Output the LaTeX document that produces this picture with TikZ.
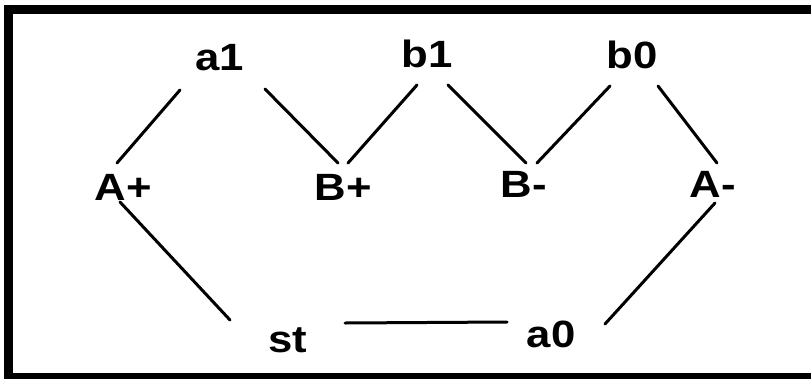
\documentclass[tikz,border=0pt]{standalone}
\usepackage{fontspec}
\setmainfont{Liberation Sans}
\usetikzlibrary{calc}
\newcommand\sxtext[1]{\scalebox{1.15}[1]{#1}}
\tikzset{
  lbl/.style={anchor=base, inner sep=0pt, font=\fontsize{38}{38}\selectfont\bfseries},
  link/.style={line width=3pt, line cap=round}
}
\begin{document}
\begin{tikzpicture}[x=1pt,y=-1pt]
\useasboundingbox (0,0) rectangle (811,378);
\clip (0,0) rectangle (811,378);
\draw[line width=9pt] (8,9.5) rectangle (830,377);
% nodes
\node[lbl] (a1) at (220,70) {\sxtext{a1}};
\node[lbl] (b1) at (427,67) {\sxtext{b1}};
\node[lbl] (b0) at (632,68) {\sxtext{b0}};
\node[lbl] (Ap) at (123,200) {\sxtext{A+}};
\node[lbl] (Bp) at (343,200) {\sxtext{B+}};
\node[lbl] (Bm) at (524,197) {\sxtext{B-}};
\node[lbl] (Am) at (713,197) {\sxtext{A-}};
\node[lbl] (st) at (288,352) {\sxtext{st}};
\node[lbl] (a0) at (551,347) {\sxtext{a0}};
% connectors
\draw[link] ($(Ap.base)+(-6,-37)$) -- ($(a1.base)+(-40,20)$);
\draw[link] ($(a1.base)+(45,19)$) -- ($(Bp.base)+(-5,-37)$);
\draw[link] ($(Bp.base)+(5,-37)$) -- ($(b1.base)+(-10,18)$);
\draw[link] ($(b1.base)+(21,18)$) -- ($(Bm.base)+(2,-34)$);
\draw[link] ($(Bm.base)+(13,-34)$) -- ($(b0.base)+(-22,18)$);
\draw[link] ($(b0.base)+(26,18)$) -- ($(Am.base)+(4,-34)$);
\draw[link] ($(Ap.base)+(-3,2)$) -- ($(st.base)+(-58,-32)$);
\draw[link] ($(st.base)+(57,-29)$) -- ($(a0.base)+(-44,-25)$);
\draw[link] ($(a0.base)+(54,-23)$) -- ($(Am.base)+(2,6)$);
\end{tikzpicture}
\end{document}
